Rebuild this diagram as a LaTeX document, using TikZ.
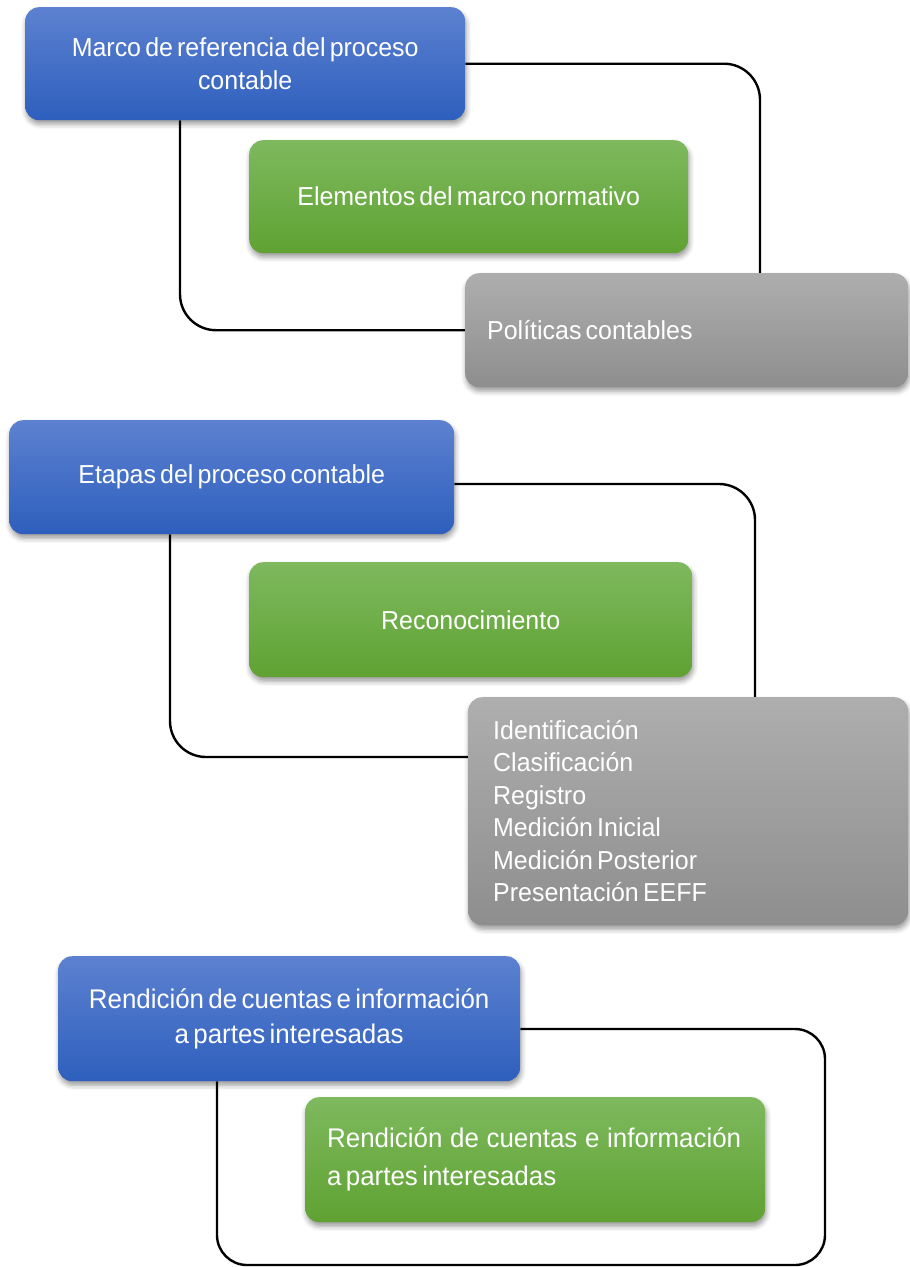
\documentclass[tikz,border=0pt]{standalone}
\usepackage{fontspec}
\setmainfont{Liberation Sans}[FakeStretch=0.96, WordSpace=0.6]
\usetikzlibrary{shadows.blur,backgrounds}
\definecolor{bluetop}{HTML}{5C81D0}
\definecolor{bluebot}{HTML}{2E5FBD}
\definecolor{greentop}{HTML}{7EB95E}
\definecolor{greenbot}{HTML}{5FA232}
\definecolor{graytop}{HTML}{AEAEAE}
\definecolor{graybot}{HTML}{8E8E8E}
\begin{document}
\begin{tikzpicture}[x=1pt,y=-1pt,
  box/.style={rounded corners=14pt, anchor=north west, inner sep=0pt, text=white,
    font=\fontsize{26}{32.5}\selectfont,
    blur shadow={shadow xshift=1pt, shadow yshift=-4pt, shadow blur radius=5pt, shadow opacity=40}},
  bluebox/.style={box, top color=bluetop, bottom color=bluebot, align=center},
  greenbox/.style={box, top color=greentop, bottom color=greenbot, align=center},
  graybox/.style={box, top color=graytop, bottom color=graybot, align=left},
  conn/.style={draw=black, line width=2.4pt, rounded corners=36pt}]
\useasboundingbox (0,0) rectangle (910,1267);

% Block 1
\node[bluebox, minimum width=440pt, minimum height=113pt] (b1) at (25,7)
  {Marco de referencia del proceso\\contable};
\node[greenbox, minimum width=439pt, minimum height=113pt] (g1) at (249,140)
  {Elementos del marco normativo};
\node[graybox, text width=399pt, inner xsep=22pt, minimum height=114pt] (p1) at (465,273)
  {\spaceskip=0pt\relax Políticas contables};
\coordinate (r1) at (760,273);
\coordinate (l1) at (180,0);

% Block 2
\node[bluebox, minimum width=445pt, minimum height=114pt] (b2) at (9,420)
  {Etapas del proceso contable};
\node[greenbox, minimum width=443pt, minimum height=115pt] (g2) at (249,562)
  {Reconocimiento};
\node[graybox, text width=390pt, inner xsep=25pt, minimum height=228pt] (p2) at (468,697)
  {\spaceskip=0pt\relax Identificación\\Clasificación\\Registro\\Medición Inicial\\Medición Posterior\\Presentación EEFF};
\coordinate (r2) at (755,697);
\coordinate (l2) at (170,0);

% Block 3
\node[bluebox, minimum width=462pt, minimum height=125pt, font=\fontsize{27}{35}\selectfont] (b3) at (58,956)
  {Rendición de cuentas e información\\a partes interesadas};
\node[greenbox, align=left, text width=416pt, inner xsep=22pt, minimum height=125pt,
  font=\fontsize{27}{38}\selectfont] (g3) at (305,1097)
  {\spaceskip=0pt\relax\makebox[414pt][s]{Rendición de cuentas e información}\\a partes interesadas};
\coordinate (r3) at (825,1265);
\coordinate (l3) at (217,0);

\begin{scope}[on background layer]
  \draw[conn] (b1.east) -| (r1);
  \draw[conn] (b1.south -| l1) |- (p1.west);
  \draw[conn] (b2.east |- 0,484) -| (r2);
  \draw[conn] (b2.south -| l2) |- (p2.west |- 0,757);
  \draw[conn, rounded corners=30pt] (b3.east |- 0,1029) -| (r3) -| (b3.south -| l3);
\end{scope}
\end{tikzpicture}
\end{document}
